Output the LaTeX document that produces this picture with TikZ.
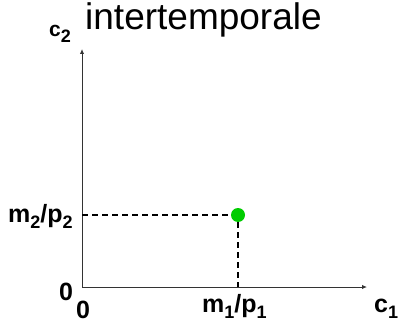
\documentclass[tikz,border=0pt]{standalone}
\usepackage{fontspec}
\setmainfont{Liberation Sans}
\usetikzlibrary{arrows.meta,positioning}
\newcommand{\lowsub}[1]{\raisebox{-0.26em}{\fontsize{18}{18}\selectfont #1}}

\begin{document}
\begin{tikzpicture}[
    x=1pt, y=-1pt,
    axis/.style={draw=black!80, line width=1pt, -{Latex[length=5pt,width=4.5pt]}},
    guide/.style={draw=black, line width=1.2pt, dash pattern=on 6pt off 4pt},
    pt/.style={circle, fill=green!80!black, inner sep=0pt, minimum size=14pt},
    lbl/.style={inner sep=0pt, anchor=base west, font=\fontsize{25}{28}\selectfont\bfseries},
    title/.style={inner sep=0pt, anchor=base west, font=\fontsize{37}{40}\selectfont}
]
\useasboundingbox (0,0) rectangle (401,323);
\coordinate (origin) at (82,287);
\coordinate (ytop) at (82,49);
\coordinate (xend) at (367,287);
\node[pt] (opt) at (238,215) {};
\coordinate (ylev) at (82,215);
\coordinate (xlev) at (238,287);

\node[title] (head) at (85,30) {intertemporale};
\node[lbl, font=\fontsize{21}{24}\selectfont\bfseries] (ctwo) at (49,37) {c\lowsub{2}};
\node[lbl] (mtwo) at (8,222) {m\lowsub{2}/p\lowsub{2}};
\node[lbl] (zeroy) at (59,300) {0};
\node[lbl] (zerox) at (76,318) {0};
\node[lbl] (mone) at (202,312) {m\lowsub{1}/p\lowsub{1}};
\node[lbl] (cone) at (374,312) {c\lowsub{1}};

\draw[axis] (origin) -- (ytop);
\draw[axis] (origin) -- (xend);
\draw[guide] (ylev) -- (opt.west);
\draw[guide] (opt.south) -- (xlev);
\end{tikzpicture}
\end{document}
